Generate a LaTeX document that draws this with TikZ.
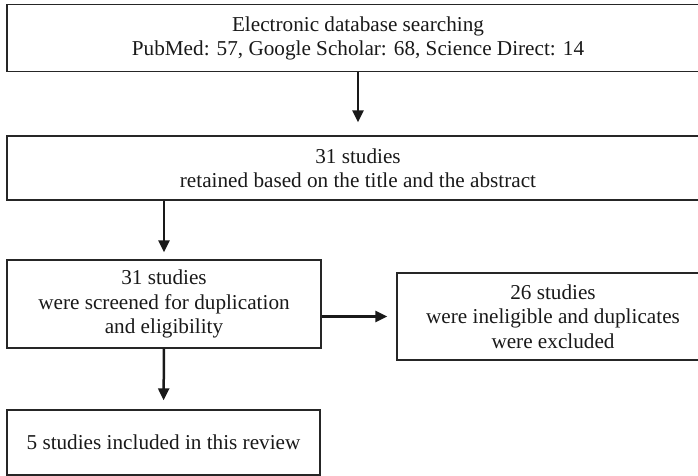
\documentclass[tikz,border=0pt]{standalone}
\usepackage{fontspec}
\setmainfont{Liberation Serif}
\usetikzlibrary{arrows.meta}
\begin{document}
\begin{tikzpicture}[x=1pt,y=-1pt,
  box/.style={draw=black!85,line width=1.3pt,rectangle,inner sep=0pt,align=center,
    font=\fontsize{21.2}{24.5}\selectfont,text=black!90},
  flow/.style={line width=2.5pt,draw=black!90,-{Triangle[length=12pt,width=11pt]}}]
\useasboundingbox (0,0) rectangle (698,476);
\clip (0,0) rectangle (698,476);
\node[box,minimum width=702pt,minimum height=67pt] (b1) at (358,38.2)
  {Electronic database searching\\PubMed: 57, Google Scholar: 68, Science Direct: 14};
\node[box,minimum width=702pt,minimum height=64pt] (b2) at (358,168)
  {31 studies\\retained based on the title and the abstract};
\node[box,minimum width=314pt,minimum height=88pt] (b3) at (164,304)
  {31 studies\\were screened for duplication\\and eligibility};
\node[box,minimum width=312pt,minimum height=87pt] (b4) at (553,316.5)
  {26 studies\\were ineligible and duplicates\\were excluded};
\node[box,minimum width=313pt,minimum height=65pt] (b5) at (163.5,442.5)
  {5 studies included in this review};
\draw[flow,shorten >=13pt] (b1.south) -- (b1.south |- b2.north);
\draw[flow,shorten >=7pt] (b3.north |- b2.south) -- (b3.north);
\draw[flow,shorten >=9pt] (b3.east |- b4.west) -- (b4.west);
\draw[flow,shorten >=9pt] (b3.south) -- (b5.north);
\end{tikzpicture}
\end{document}
